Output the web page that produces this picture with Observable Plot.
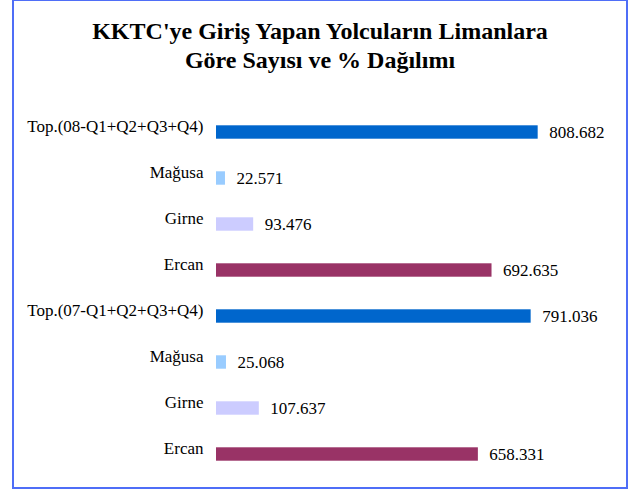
<!DOCTYPE html>
<html>
<head>
<meta charset="utf-8">
<script src="https://cdn.jsdelivr.net/npm/d3@7"></script>
<script src="https://cdn.jsdelivr.net/npm/@observablehq/plot@0.6"></script>
<style>
  html, body { margin: 0; padding: 0; background: #fff; }
  body { width: 634px; height: 490px; position: relative; overflow: hidden; }
  #frame { position: absolute; left: 12px; top: 0; width: 616px; height: 489px; box-sizing: border-box; border: 2px solid #4f6ef7; border-top-width: 1.5px; }
  #title { position: absolute; left: 14px; width: 612px; top: 17px; text-align: center; font-family: "Liberation Serif", serif; font-weight: bold; font-size: 24px; line-height: 29px; color: #000; z-index: 2; }
  #chart { position: absolute; left: 0; top: 0; z-index: 1; }
</style>
</head>
<body>
<div id="frame"></div>
<div id="title">KKTC'ye Giriş Yapan Yolcuların Limanlara<br>Göre Sayısı ve % Dağılımı</div>
<div id="chart"></div>
<script>
// Data (top to bottom as shown)
const categories = ["Top.(08-Q1+Q2+Q3+Q4)", "Mağusa", "Girne", "Ercan",
                    "Top.(07-Q1+Q2+Q3+Q4)", "Mağusa", "Girne", "Ercan"];
const series = ["Toplam", "Mağusa", "Girne", "Ercan",
                "Toplam", "Mağusa", "Girne", "Ercan"];
const values = [808682, 22571, 93476, 692635,
                791036, 25068, 107637, 658331];
const seriesNames = ["Toplam", "Mağusa", "Girne", "Ercan"];
const seriesColors = ["#0066cc", "#99ccff", "#ccccff", "#993366"];

const rows = categories.map((c, i) => ({id: i, label: c, series: series[i], value: values[i]}));
const trFormat = d3.formatLocale({decimal: ",", thousands: ".", grouping: [3], currency: ["", ""]}).format(",");

const chart = Plot.plot({
  width: 634,
  height: 490,
  marginLeft: 216,
  marginRight: 60,
  marginTop: 106.7,
  marginBottom: 10.7,
  style: {fontFamily: "'Liberation Serif', serif", fontSize: "17px", color: "#000", background: "transparent"},
  x: {domain: [0, 900000], axis: null},
  y: {domain: d3.range(categories.length), padding: 0, axis: null},
  color: {domain: seriesNames, range: seriesColors},
  marks: [
    Plot.barX(rows, {x: "value", y: "id", fill: "series", insetTop: 16.3, insetBottom: 16.3}),
    Plot.text(rows, {x: "value", y: "id", text: d => trFormat(d.value), textAnchor: "start", dx: 11, dy: 0.5, fill: "#000", fontSize: 17}),
    Plot.axisY({tickSize: 0, tickPadding: 13, tickFormat: i => categories[i], dy: -6, fontSize: 17, label: null})
  ]
});
document.getElementById("chart").append(chart);
</script>
</body>
</html>
